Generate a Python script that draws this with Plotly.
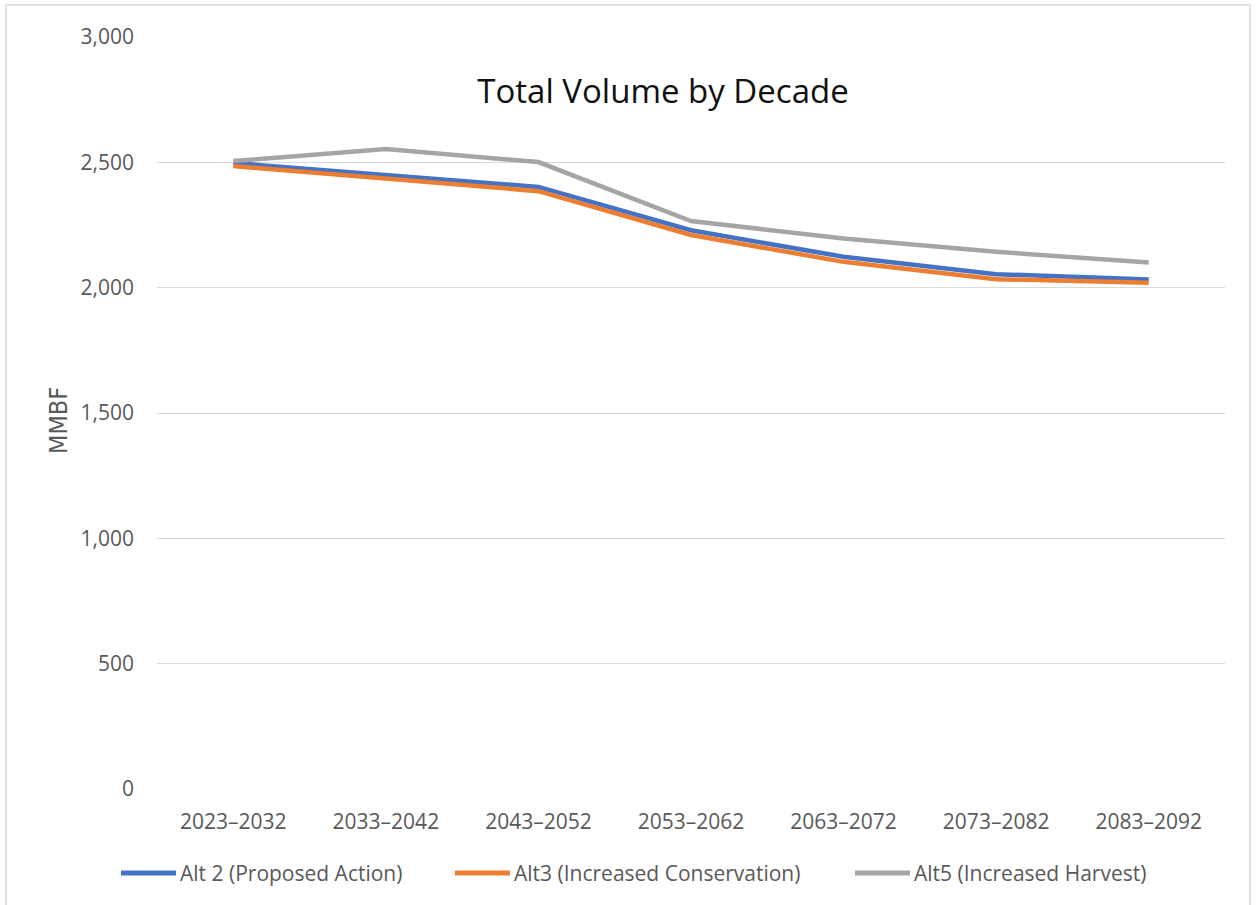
import plotly.graph_objects as go

# Decades on the category axis
decades = ["2023–2032", "2033–2042", "2043–2052", "2053–2062",
           "2063–2072", "2073–2082", "2083–2092"]

# Total harvest volume per decade (MMBF)
alt2_proposed = [2497, 2450, 2402, 2229, 2123, 2054, 2033]
alt3_conservation = [2485, 2434, 2385, 2210, 2103, 2034, 2020]
alt5_harvest = [2505, 2553, 2501, 2266, 2196, 2143, 2100]

series_names = ["Alt 2 (Proposed Action)",
                "Alt3 (Increased Conservation)",
                "Alt5 (Increased Harvest)"]
series_colors = ["#4472C4", "#ED7D31", "#A5A5A5"]

y_ticks = [0, 500, 1000, 1500, 2000, 2500, 3000]

FONT = "Open Sans, Noto Sans, sans-serif"
TEXT_GREY = "#595959"
GRID_GREY = "#D9D9D9"

fig = go.Figure()
for name, values, color in zip(series_names,
                               [alt2_proposed, alt3_conservation, alt5_harvest],
                               series_colors):
    fig.add_trace(go.Scatter(
        x=decades, y=values, name=name, mode="lines",
        line=dict(color=color, width=4.5),
        hoverinfo="x+y+name", showlegend=False,
    ))

# Plot-area geometry in pixels (for paper-coordinate conversions)
W, H = 1256, 905
L, R, T, B = 157, 1225, 37, 789
pw, ph = R - L, B - T

def px_x(x):
    return (x - L) / pw

def px_y(y):
    return (B - y) / ph

fig.update_layout(
    width=W, height=H,
    margin=dict(l=L, r=W - R, t=T, b=H - B, autoexpand=False),
    paper_bgcolor="white", plot_bgcolor="white",
    font=dict(family=FONT, color=TEXT_GREY, size=21),
    title=dict(text="Total Volume by Decade",
               font=dict(family=FONT, size=33, color="#111111"),
               xref="container", yref="container",
               x=663 / W, y=1 - 91 / H,
               xanchor="center", yanchor="middle"),
    xaxis=dict(
        type="category", range=[-0.5, len(decades) - 0.5],
        showgrid=False, showline=False, zeroline=False, automargin=False,
        ticks="", tickfont=dict(size=21, color=TEXT_GREY),
        ticklabelstandoff=18,
    ),
    yaxis=dict(
        range=[0, 3000], tickvals=y_ticks, tickformat=",d",
        showgrid=True, gridcolor=GRID_GREY, gridwidth=1.3,
        zeroline=False, showline=False, ticks="", automargin=False,
        tickfont=dict(size=21, color=TEXT_GREY),
        ticklabelstandoff=22,
    ),
    showlegend=False,
)

# Y-axis title
fig.add_annotation(
    text="MMBF", textangle=-90, showarrow=False,
    xref="paper", yref="paper", x=px_x(58), y=px_y(421),
    xanchor="center", yanchor="middle",
    font=dict(family="DejaVu Sans Condensed, Liberation Sans Narrow, sans-serif",
              size=25, color=TEXT_GREY),
)

# Legend drawn below the axis: a key line followed by its label
legend_starts = [121, 455, 855]
legend_y = px_y(873)
for start, name, color in zip(legend_starts, series_names, series_colors):
    fig.add_shape(
        type="line", xref="paper", yref="paper",
        x0=px_x(start), x1=px_x(start + 55), y0=legend_y, y1=legend_y,
        line=dict(color=color, width=5),
    )
    fig.add_annotation(
        text=name, showarrow=False, xref="paper", yref="paper",
        x=px_x(start + 57), y=legend_y, xanchor="left", yanchor="middle",
        font=dict(family=FONT, size=21, color=TEXT_GREY),
    )

# Chart-area border
fig.add_shape(
    type="rect", xref="paper", yref="paper",
    x0=px_x(6), x1=px_x(1250), y0=px_y(912), y1=px_y(5),
    line=dict(color=GRID_GREY, width=1.5), fillcolor="rgba(0,0,0,0)",
    layer="below",
)

fig.write_html("out.html")
